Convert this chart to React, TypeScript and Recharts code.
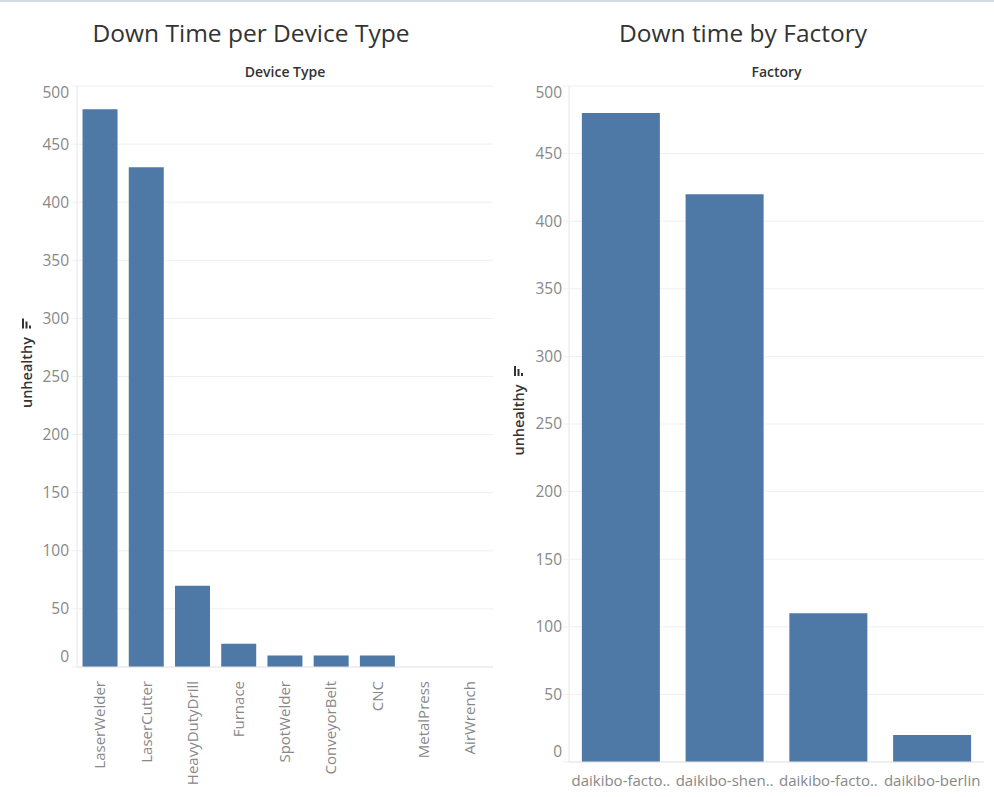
import React from 'react';
import { BarChart, Bar, XAxis, YAxis, CartesianGrid } from 'recharts';

const deviceTypes = ['LaserWelder', 'LaserCutter', 'HeavyDutyDrill', 'Furnace', 'SpotWelder', 'ConveyorBelt', 'CNC', 'MetalPress', 'AirWrench'];
const deviceDownTime = [480, 430, 70, 20, 10, 10, 10, 0, 0];

const factories = ['daikibo-factory-meiyo', 'daikibo-shenzhen', 'daikibo-factory-seiko', 'daikibo-berlin'];
const factoryDownTime = [480, 420, 110, 20];

const yTicks = [0, 50, 100, 150, 200, 250, 300, 350, 400, 450, 500];

const deviceData = deviceTypes.map((name, i) => ({ name, unhealthy: deviceDownTime[i] }));
const factoryData = factories.map((name, i) => ({ name, unhealthy: factoryDownTime[i] }));

const FONT = '"Open Sans", "Noto Sans", sans-serif';
const BLUE = '#4e79a7';
const GRID = '#efefef';
const TICK = '#888888';

// tableau nudges the end labels inward
const YTick = (props: any) => {
  const { x, y, payload } = props;
  const dy = payload.value === 500 ? 7 : payload.value === 0 ? -10 : 0;
  return (
    <text x={x} y={y + dy} dy="0.35em" textAnchor="end" fill={TICK} fontSize={15.5} fontFamily={FONT}>
      {payload.value}
    </text>
  );
};

const RotatedTick = (props: any) => {
  const { x, y, payload } = props;
  return (
    <g transform={`translate(${x},${y})`}>
      <text transform="rotate(-90)" x={-2} y={0} dy="0.35em" textAnchor="end" fill={TICK} fontSize={15} fontFamily={FONT}>
        {payload.value}
      </text>
    </g>
  );
};

let ctx: CanvasRenderingContext2D | null = null;
const fitLabel = (s: string, max: number) => {
  if (!ctx) ctx = document.createElement('canvas').getContext('2d');
  if (!ctx) return s;
  ctx.font = '15px "Open Sans"';
  if (ctx.measureText(s).width <= max) return s;
  let t = s;
  while (t.length > 1 && ctx.measureText(t + '..').width > max) t = t.slice(0, -1);
  return t + '..';
};

const FactoryTick = (props: any) => {
  const { x, y, payload } = props;
  return (
    <text x={x} y={y} dy="0.71em" textAnchor="middle" fill={TICK} fontSize={15} fontFamily={FONT}>
      {fitLabel(payload.value, 103)}
    </text>
  );
};

const YLabel = (props: any) => {
  const vb = props.viewBox || {};
  const cx = vb.x + vb.width - 50;
  const cy = vb.y + vb.height / 2 - 4;
  return (
    <g>
      <text
        transform={`translate(${cx},${cy}) rotate(-90)`}
        textAnchor="middle"
        dy="0.35em"
        fill="#333"
        fontSize={14.5}
        fontWeight={600}
        fontFamily={FONT}
      >
        unhealthy
      </text>
      <rect x={cx - 5} y={cy - 54} width={2} height={10} fill="#333" />
      <rect x={cx - 1.5} y={cy - 51} width={2} height={7} fill="#333" />
      <rect x={cx + 2} y={cy - 47} width={2} height={3} fill="#333" />
    </g>
  );
};

const titleStyle: React.CSSProperties = {
  position: 'absolute',
  top: 18,
  height: 30,
  lineHeight: '30px',
  textAlign: 'center',
  fontFamily: FONT,
  fontSize: 24.5,
  color: '#333',
};

const headerStyle: React.CSSProperties = {
  position: 'absolute',
  top: 64,
  height: 16,
  lineHeight: '16px',
  textAlign: 'center',
  fontFamily: FONT,
  fontSize: 14,
  fontWeight: 600,
  color: '#333',
};

export default function App() {
  return (
    <div style={{ position: 'absolute', top: 0, left: 0, width: 994, height: 797, background: '#fff', overflow: 'hidden' }}>
      <div style={{ position: 'absolute', top: 0, left: 0, width: 994, height: 2, background: '#d3dce6' }} />

      <div style={{ ...titleStyle, left: 0, width: 502 }}>Down Time per Device Type</div>
      <div style={{ ...headerStyle, left: 77, width: 416 }}>Device Type</div>
      <div style={{ position: 'absolute', left: 0, top: 0 }}>
        <BarChart width={500} height={797} data={deviceData} margin={{ top: 86, right: 7, bottom: 0, left: 0 }} barCategoryGap="12%">
          <CartesianGrid vertical={false} stroke={GRID} />
          <XAxis dataKey="name" height={130} tick={<RotatedTick />} tickLine={false} axisLine={{ stroke: '#e6e6e6' }} interval={0} tickMargin={6} />
          <YAxis
            width={77}
            domain={[0, 500]}
            ticks={yTicks}
            tick={<YTick />}
            tickSize={5}
            tickMargin={3}
            tickLine={{ stroke: GRID }}
            axisLine={{ stroke: '#e6e6e6' }}
            label={<YLabel />}
          />
          <Bar dataKey="unhealthy" fill={BLUE} isAnimationActive={false} />
        </BarChart>
      </div>

      <div style={{ ...titleStyle, left: 500, width: 486 }}>Down time by Factory</div>
      <div style={{ ...headerStyle, left: 569, width: 415 }}>Factory</div>
      <div style={{ position: 'absolute', left: 500, top: 0 }}>
        <BarChart width={494} height={797} data={factoryData} margin={{ top: 86, right: 10, bottom: 0, left: 0 }} barCategoryGap="12.4%">
          <CartesianGrid vertical={false} stroke={GRID} />
          <XAxis dataKey="name" height={35} tick={<FactoryTick />} tickLine={false} axisLine={{ stroke: '#e6e6e6' }} interval={0} tickMargin={7} />
          <YAxis
            width={69}
            domain={[0, 500]}
            ticks={yTicks}
            tick={<YTick />}
            tickSize={6}
            tickMargin={1}
            tickLine={{ stroke: GRID }}
            axisLine={{ stroke: '#e6e6e6' }}
            label={<YLabel />}
          />
          <Bar dataKey="unhealthy" fill={BLUE} isAnimationActive={false} />
        </BarChart>
      </div>
    </div>
  );
}
